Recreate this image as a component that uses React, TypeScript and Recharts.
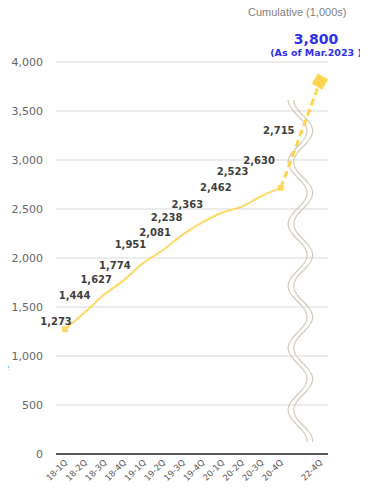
import {
  CartesianGrid,
  LabelList,
  Line,
  LineChart,
  ReferenceLine,
  XAxis,
  YAxis,
} from "recharts";

const categories = [
  "18-1Q", "18-2Q", "18-3Q", "18-4Q",
  "19-1Q", "19-2Q", "19-3Q", "19-4Q",
  "20-1Q", "20-2Q", "20-3Q", "20-4Q",
  " ", "22-4Q",
];
const cumulative = [1273, 1444, 1627, 1774, 1951, 2081, 2238, 2363, 2462, 2523, 2630, 2715, null, null];
const outlook = [null, null, null, null, null, null, null, null, null, null, null, 2715, null, 3800];
const yTicks = [0, 500, 1000, 1500, 2000, 2500, 3000, 3500, 4000];

// where each value label sits relative to its point
const labelDx = [-9, -10, -8, -9, -13, -8, -16, -15, -6, -9, -2, -2];
const labelDy = [-8, -17, -15, -15, -18, -18, -17, -18, -25, -35, -36, -57];

const rows = categories.map((q, i) => ({
  q,
  cumulative: cumulative[i],
  outlook: outlook[i],
}));

const YELLOW = "#FFD966";
const FONT = "'DejaVu Sans', Verdana, sans-serif";
const fmt = (v: number) => v.toLocaleString("en-US");

function SolidDot(props: any) {
  const { cx, cy, index } = props;
  if (cx == null || cy == null || (index !== 0 && index !== 11)) return <g key={`d${index}`} />;
  return <rect key={`d${index}`} x={cx - 3} y={cy - 3} width={6} height={6} fill={YELLOW} />;
}

function BigDiamond(props: any) {
  const { cx, cy, index, value } = props;
  if (cx == null || cy == null || index !== 13 || value == null) return <g key={`b${index}`} />;
  return (
    <rect
      key={`b${index}`}
      x={cx - 6}
      y={cy - 6}
      width={12}
      height={12}
      fill="#FFD54F"
      transform={`rotate(30 ${cx} ${cy})`}
    />
  );
}

function ValueLabel(props: any) {
  const { x, y, value, index } = props;
  if (value == null) return null;
  return (
    <text
      x={x + labelDx[index]}
      y={y + labelDy[index]}
      dy="0.35em"
      textAnchor="middle"
      fontFamily={FONT}
      fontSize={10}
      fontWeight="bold"
      fill="#404040"
    >
      {fmt(value)}
    </text>
  );
}

function TargetLabel(props: any) {
  const { x, y, value, index } = props;
  if (value == null || index !== 13) return null;
  return (
    <g fontFamily={FONT} fontWeight="bold" fill="#2F2FF0" textAnchor="middle">
      <text x={x - 4} y={y - 38} fontSize={14}>{fmt(value)}</text>
      <text x={x - 4} y={y - 26} fontSize={9.5}>(As of Mar.2023 )</text>
    </g>
  );
}

// the axis-break wave, drawn along the empty quarter
function Squiggle(props: any) {
  const vb = props.viewBox || {};
  const x0 = vb.x ?? props.x1 ?? props.x;
  const y0 = vb.y ?? props.y1 ?? props.y;
  const h = vb.height ?? ((props.y2 ?? 0) - (props.y1 ?? 0));
  if (x0 == null || y0 == null || !h) return null;
  const top = y0 + 38;
  const bottom = y0 + h - 12;
  const cx = x0;
  const wave = (shift: number) => {
    let d = "";
    for (let y = top; y <= bottom; y += 2) {
      const x = cx + shift - 9.5 * Math.cos((Math.PI * (y - top)) / 31);
      d += `${d ? "L" : "M"}${x.toFixed(1)},${y}`;
    }
    return d;
  };
  return (
    <g fill="none" stroke="#D3CBBA" strokeWidth={1.2}>
      <path d={wave(-2.8)} />
      <path d={wave(2.8)} />
    </g>
  );
}

function QuarterTick(props: any) {
  const { x, y, payload } = props;
  return (
    <text
      x={x + 3}
      y={y + 9}
      textAnchor="end"
      transform={`rotate(-45 ${x + 3} ${y + 9})`}
      fontFamily={FONT}
      fontSize={8.5}
      fill="#595959"
    >
      {payload.value}
    </text>
  );
}

export default function App() {
  return (
    <div style={{ position: "relative", width: 368, height: 489, margin: -8, background: "#fff" }}>
      <LineChart
        width={368}
        height={489}
        data={rows}
        margin={{ top: 62, right: 40, left: 0, bottom: 0 }}
      >
        <CartesianGrid vertical={false} stroke="#D9D9D9" />
        <XAxis
          dataKey="q"
          interval={0}
          height={35}
          padding={{ left: 9, right: 8 }}
          axisLine={{ stroke: "#595959", strokeWidth: 2 }}
          tickLine={false}
          tickSize={0}
          tickMargin={0}
          tick={<QuarterTick />}
        />
        <YAxis
          width={56}
          domain={[0, 4000]}
          ticks={yTicks}
          axisLine={false}
          tickLine={false}
          tickMargin={7}
          tickFormatter={fmt}
          tick={{ fontFamily: FONT, fontSize: 11, fill: "#666666" }}
        />
        <ReferenceLine x=" " stroke="none" label={Squiggle} />
        <Line
          dataKey="cumulative"
          type="monotone"
          stroke={YELLOW}
          strokeWidth={2}
          dot={SolidDot}
          activeDot={false}
          isAnimationActive={false}
        >
          <LabelList dataKey="cumulative" content={<ValueLabel />} />
        </Line>
        <Line
          dataKey="outlook"
          type="linear"
          stroke="#FFD54F"
          strokeWidth={3}
          strokeDasharray="7 4"
          connectNulls
          dot={BigDiamond}
          activeDot={false}
          isAnimationActive={false}
        >
          <LabelList dataKey="outlook" content={<TargetLabel />} />
        </Line>
      </LineChart>
      <div
        style={{
          position: "absolute",
          left: 248,
          top: 6,
          fontFamily: "'Liberation Sans', Arial, sans-serif",
          fontSize: 11,
          color: "#7f7f7f",
          whiteSpace: "nowrap",
        }}
      >
        Cumulative (1,000s)
      </div>
      <div
        style={{
          position: "absolute",
          left: -31,
          width: 40,
          top: 362,
          textAlign: "right",
          fontFamily: FONT,
          fontSize: 8.5,
          color: "#595959",
          whiteSpace: "nowrap",
        }}
      >
        Scale
      </div>
    </div>
  );
}
